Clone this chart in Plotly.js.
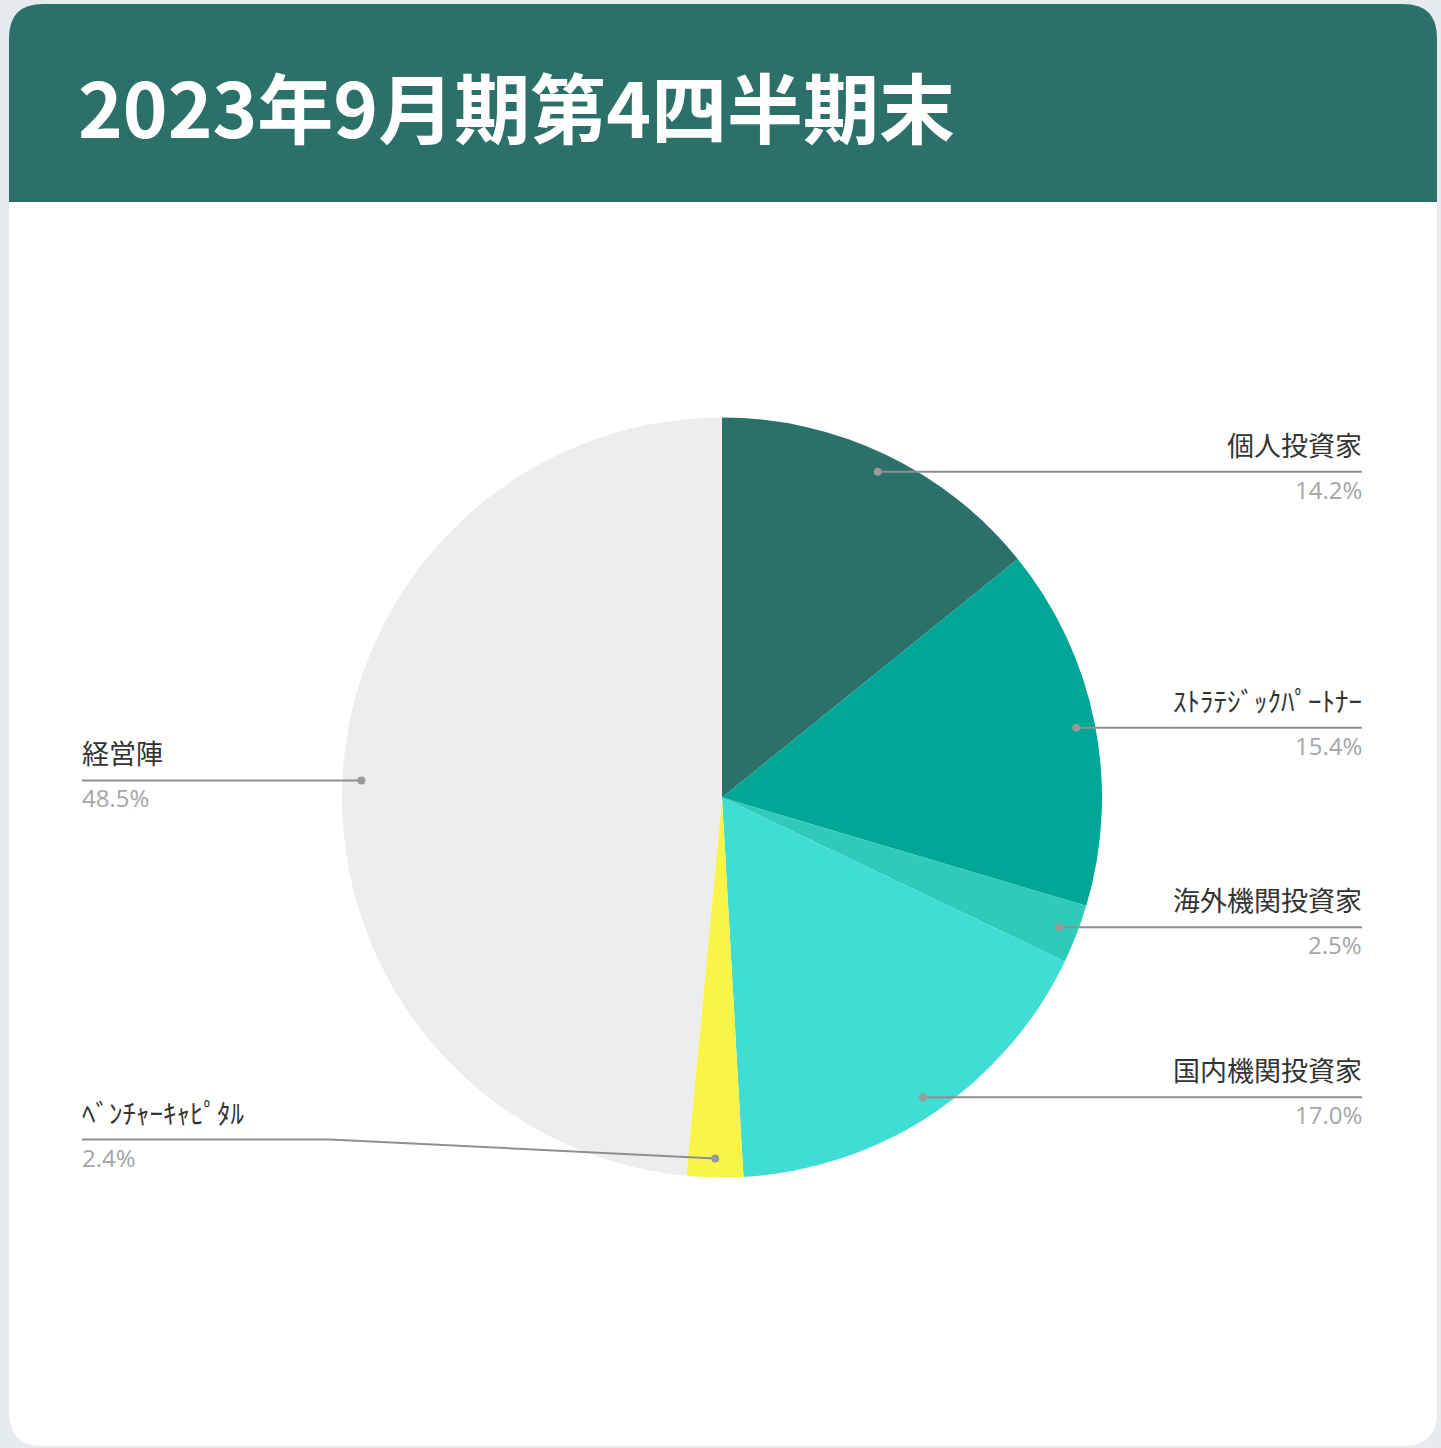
<!DOCTYPE html>
<html>
<head>
<meta charset="utf-8">
<script src="https://cdn.plot.ly/plotly-3.0.1.min.js"></script>
<style>
  html, body { margin: 0; padding: 0; background: #e7eaee; }
  #chart { width: 1441px; height: 1448px; }
</style>
</head>
<body>
<div id="chart"></div>
<script>
// ---- data ----
const titleText = '2023年9月期第4四半期末';
const categories = ['個人投資家', 'ｽﾄﾗﾃｼﾞｯｸﾊﾟｰﾄﾅｰ', '海外機関投資家', '国内機関投資家', 'ﾍﾞﾝﾁｬｰｷｬﾋﾟﾀﾙ', '経営陣'];
const shares = [14.2, 15.4, 2.5, 17.0, 2.4, 48.5];
const sliceColors = ['#2b7169', '#00a696', '#2ecbbb', '#40ddd5', '#f8f548', '#ededed'];

// ---- geometry (pixels) ----
const W = 1441, H = 1448;
const cx = 722, cy = 797.5, R = 380;
const px = v => v / W;
const py = v => 1 - v / H;

const shapes = [];
const annotations = [];

// card background
function roundedPath(x0, y0, x1, y1, rTop, rBot) {
  return 'M ' + px(x0 + rTop) + ' ' + py(y0) +
    ' L ' + px(x1 - rTop) + ' ' + py(y0) +
    ' Q ' + px(x1) + ' ' + py(y0) + ' ' + px(x1) + ' ' + py(y0 + rTop) +
    ' L ' + px(x1) + ' ' + py(y1 - rBot) +
    (rBot ? ' Q ' + px(x1) + ' ' + py(y1) + ' ' + px(x1 - rBot) + ' ' + py(y1) : '') +
    ' L ' + px(x0 + rBot) + ' ' + py(y1) +
    (rBot ? ' Q ' + px(x0) + ' ' + py(y1) + ' ' + px(x0) + ' ' + py(y1 - rBot) : '') +
    ' L ' + px(x0) + ' ' + py(y0 + rTop) +
    ' Q ' + px(x0) + ' ' + py(y0) + ' ' + px(x0 + rTop) + ' ' + py(y0) + ' Z';
}
shapes.push({type: 'path', xref: 'paper', yref: 'paper', layer: 'below',
  path: roundedPath(9, 4, 1437, 1446, 34, 34), fillcolor: '#ffffff', line: {width: 0}});
shapes.push({type: 'path', xref: 'paper', yref: 'paper', layer: 'below',
  path: roundedPath(9, 4, 1437, 202, 34, 0), fillcolor: '#2b7169', line: {width: 0}});

// leader lines and labels
const total = shares.reduce((a, b) => a + b, 0);
let cum = 0;
shares.forEach((v, i) => {
  const mid = (cum + v / 2) / total * 2 * Math.PI;
  cum += v;
  const dx = cx + 0.95 * R * Math.sin(mid);
  const dy = cy - 0.95 * R * Math.cos(mid);
  const right = Math.sin(mid) >= 0;
  const ly = Math.max(cy - 0.9 * R, Math.min(cy + 0.9 * R, dy));
  const endX = right ? 1362 : 82;
  const elbowX = right ? 1114 : 330;
  shapes.push({type: 'path', xref: 'paper', yref: 'paper',
    path: 'M ' + px(dx) + ' ' + py(dy) + ' L ' + px(elbowX) + ' ' + py(ly) + ' L ' + px(endX) + ' ' + py(ly),
    line: {color: '#8f8f8f', width: 2}});
  shapes.push({type: 'circle', xref: 'paper', yref: 'paper',
    x0: px(dx - 4), x1: px(dx + 4), y0: py(dy - 4), y1: py(dy + 4),
    fillcolor: '#999999', line: {width: 0}});
  annotations.push({xref: 'paper', yref: 'paper', x: px(endX), y: py(ly - 8),
    xanchor: right ? 'right' : 'left', yanchor: 'bottom', showarrow: false,
    borderpad: 0, borderwidth: 0,
    text: categories[i], font: {family: 'Noto Sans CJK JP', size: 27, color: '#333333'}});
  annotations.push({xref: 'paper', yref: 'paper', x: px(endX), y: py(ly + 1),
    xanchor: right ? 'right' : 'left', yanchor: 'top', showarrow: false,
    borderpad: 0, borderwidth: 0,
    text: v.toFixed(1) + '%', font: {family: 'Open Sans', size: 24, color: '#a6a6a6'}});
});

const trace = {
  type: 'pie',
  labels: categories,
  values: shares,
  sort: false,
  direction: 'clockwise',
  rotation: 0,
  textinfo: 'none',
  hoverinfo: 'none',
  marker: {colors: sliceColors, line: {width: 0}},
  domain: {x: [px(cx - R), px(cx + R)], y: [py(cy + R), py(cy - R)]},
  showlegend: false
};

const layout = {
  width: W, height: H,
  margin: {l: 0, r: 0, t: 0, b: 0},
  paper_bgcolor: '#e7eaee',
  title: {text: titleText, xref: 'paper', yref: 'paper', x: px(78), xanchor: 'left',
    y: py(111), yanchor: 'middle',
    font: {family: 'Noto Sans CJK JP', size: 76, color: '#ffffff', weight: 700}},
  shapes: shapes,
  annotations: annotations
};

Plotly.newPlot('chart', [trace], layout, {displayModeBar: false, staticPlot: true});
</script>
</body>
</html>
